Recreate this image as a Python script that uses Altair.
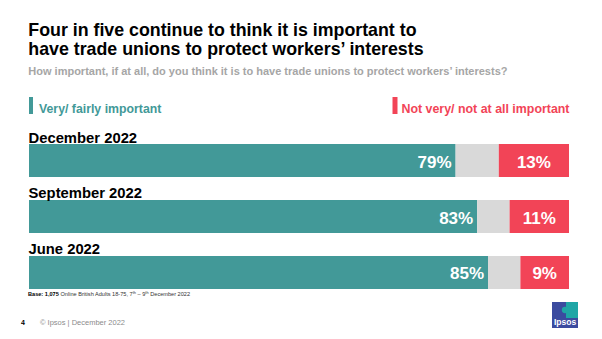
import altair as alt
import pandas as pd

# ---- data ----
waves = ["December 2022", "September 2022", "June 2022"]
important = [79, 83, 85]
not_important = [13, 11, 9]

title_lines = ["Four in five continue to think it is important to",
               "have trade unions to protect workers\u2019 interests"]
subtitle = "How important, if at all, do you think it is to have trade unions to protect workers\u2019 interests?"
legend_labels = ["Very/ fairly important", "Not very/ not at all important"]
base_bold = "Base: 1,075"
base_rest = "Online British Adults 18-75, 7\u1d57\u02b0 \u2013 9\u1d57\u02b0 December 2022"
footer_num = "4"
footer_text = "\u00a9 Ipsos | December 2022"

TEAL = "#429998"
RED = "#F24457"
GREY = "#D9D9D9"
FONT = "Liberation Sans"

# ---- segments ----
rows = []
for w, imp, notimp in zip(waves, important, not_important):
    rows.append({"wave": w, "seg": "imp", "start": 0, "end": imp})
    rows.append({"wave": w, "seg": "mid", "start": imp, "end": 100 - notimp})
    rows.append({"wave": w, "seg": "not", "start": 100 - notimp, "end": 100})
seg_df = pd.DataFrame(rows)

lab_df = pd.DataFrame({
    "wave": waves,
    "imp": important,
    "notimp": not_important,
    "imp_lab": [f"{v}%" for v in important],
    "not_lab": [f"{v}%" for v in not_important],
    "not_mid": [100 - v / 2 for v in not_important],
})

xs = alt.Scale(domain=[0, 100], nice=False, zero=False)
ys = alt.Scale(domain=waves, range=[144, 289], paddingInner=0.41, paddingOuter=0)

bars = alt.Chart(seg_df).mark_bar(cornerRadius=0, strokeWidth=0).encode(
    x=alt.X("start:Q", scale=xs, axis=None),
    x2="end:Q",
    y=alt.Y("wave:N", scale=ys, axis=None, sort=waves),
    color=alt.Color("seg:N", scale=alt.Scale(domain=["imp", "mid", "not"],
                                               range=[TEAL, GREY, RED]), legend=None),
)

imp_text = alt.Chart(lab_df).mark_text(
    align="right", baseline="alphabetic", dx=-4, dy=7, font=FONT,
    fontSize=17, fontWeight="bold", color="white"
).encode(
    x=alt.X("imp:Q", scale=xs),
    y=alt.Y("wave:N", scale=ys, sort=waves),
    text="imp_lab:N",
)

not_text = alt.Chart(lab_df).mark_text(
    align="center", baseline="alphabetic", dy=7, font=FONT,
    fontSize=17, fontWeight="bold", color="white"
).encode(
    x=alt.X("not_mid:Q", scale=xs),
    y=alt.Y("wave:N", scale=ys, sort=waves),
    text="not_lab:N",
)

cat_text = alt.Chart(lab_df).mark_text(
    align="left", baseline="alphabetic", dy=-1.5, font=FONT,
    fontSize=14.8, fontWeight="bold", color="black"
).encode(
    x=alt.value(-0.5),
    y=alt.Y("wave:N", scale=ys, sort=waves, bandPosition=0),
    text="wave:N",
)

def txt(s, x, y, size, color, weight="normal", align="left"):
    return alt.Chart(pd.DataFrame({"t": [s]})).mark_text(
        align=align, baseline="alphabetic", font=FONT, fontSize=size,
        fontWeight=weight, color=color
    ).encode(x=alt.value(x), y=alt.value(y), text="t:N")

def box(x1, x2, y1, y2, color):
    return alt.Chart(pd.DataFrame({"a": [0]})).mark_rect(color=color).encode(
        x=alt.value(x1), x2=alt.value(x2), y=alt.value(y1), y2=alt.value(y2))

OX = 29  # page x of plot origin

layers = [
    bars, imp_text, not_text, cat_text,
    txt(title_lines[0], 28.3 - OX, 35.5, 17.8, "black", "bold"),
    txt(title_lines[1], 28.3 - OX, 55, 17.8, "black", "bold"),
    txt(subtitle, 28.3 - OX, 75, 11, "#A6A6A6", "bold"),
    box(29 - OX, 33 - OX, 97, 114, TEAL),
    txt(legend_labels[0], 39 - OX, 112.5, 12.3, TEAL, "bold"),
    box(392.5 - OX, 397.5 - OX, 97, 114, RED),
    txt(legend_labels[1], 401.5 - OX, 112.5, 12.4, RED, "bold"),
    txt(base_bold, 28 - OX, 296, 5.6, "black", "bold"),
    txt(base_rest, 60.5 - OX, 296, 5.6, "#333333"),
    txt(footer_num, 21 - OX, 325, 7, "black", "bold"),
    txt(footer_text, 40 - OX, 325, 7.5, "#8C8C8C"),
    box(552 - OX, 578 - OX, 302, 328, "#3B4B9F"),
    box(566 - OX, 578 - OX, 302, 318, "#1FA6A6"),
    alt.Chart(pd.DataFrame({"a": [0]})).mark_point(filled=True, color="#1FA6A6", size=40, opacity=1).encode(
        x=alt.value(565 - OX), y=alt.value(310)),
    txt("Ipsos", 565 - OX, 324.5, 8.5, "white", "bold", "center"),
]

chart = alt.layer(*layers).properties(
    width=540, height=339,
    padding={"left": OX, "right": 33, "top": 0, "bottom": 0},
    autosize=alt.AutoSizeParams(type="none"),
    background="white",
).configure_view(stroke=None)

chart.save("out.html", embed_options={"renderer": "svg", "actions": False})
